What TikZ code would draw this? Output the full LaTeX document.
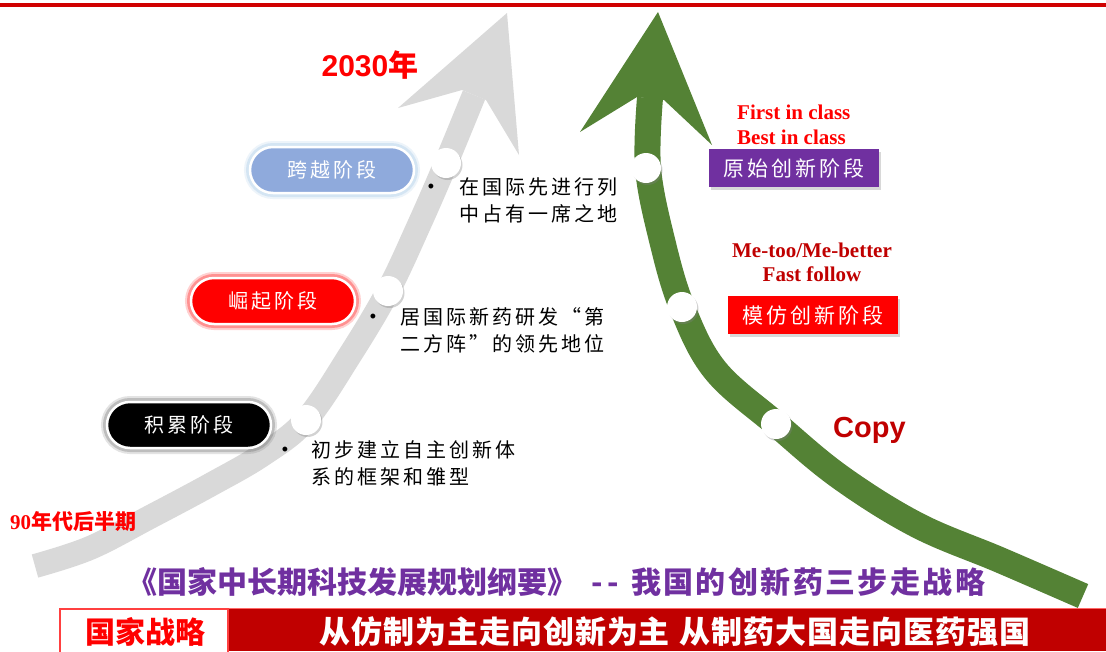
\documentclass[tikz,border=0pt]{standalone}
\usepackage{fontspec}
\usetikzlibrary{shadows}
\newfontfamily\cjk{Noto Sans CJK SC}
\newfontfamily\cjksp[LetterSpace=15]{Noto Sans CJK SC}
\newfontfamily\cjkwide[LetterSpace=8]{Noto Sans CJK SC}
\newfontfamily\cjkslight[LetterSpace=3]{Noto Sans CJK SC}
\newfontfamily\arialf{Liberation Sans}
\newfontfamily\timesf{Liberation Serif}
\definecolor{grayarrow}{HTML}{D9D9D9}
\definecolor{greenarrow}{HTML}{548235}
\definecolor{darkred}{HTML}{C00000}
\definecolor{purp}{HTML}{7030A0}
\definecolor{bluepill}{HTML}{8FAADC}
\definecolor{blueglow}{HTML}{9DC3E6}
\definecolor{topred}{HTML}{D00000}
\begin{document}
\begin{tikzpicture}[x=1pt,y=-1pt,
  pill/.style={rounded corners=23pt, minimum width=164pt, minimum height=46pt,
    draw=white, line width=2.5pt, text=white, inner sep=0pt,
    font=\cjksp\fontsize{20}{24}\selectfont},
  glow/.style={preaction={draw=#1, line width=12pt, opacity=0.18},
    preaction={draw=#1, line width=8pt, opacity=0.3}},
  dot/.style={circle, fill=white, minimum size=30pt, inner sep=0pt,
    drop shadow={shadow xshift=1.5pt, shadow yshift=-2pt, opacity=0.35}},
  sqbox/.style={minimum width=170pt, minimum height=38pt, inner sep=0pt, text=white,
    font=\cjksp\fontsize{21}{25}\selectfont,
    drop shadow={shadow xshift=2pt, shadow yshift=-3pt, opacity=0.3}},
  desc/.style={anchor=north west, align=left, inner sep=0pt,
    font=\cjksp\fontsize{20}{27}\selectfont},
  bul/.style={inner sep=0pt, font=\arialf\fontsize{18}{18}\selectfont},
  entxt/.style={inner sep=0pt, font=\timesf\bfseries\fontsize{21}{25}\selectfont},
]
\useasboundingbox (0,0) rectangle (1106,651);
\fill[white] (0,0) rectangle (1106,651);
\fill[topred] (0,3) rectangle (1106,7);

% gray arrow
\draw[grayarrow, line width=24pt] plot[smooth, tension=0.6] coordinates
  {(35,566) (90,548) (150,517) (210,485) (262,455) (306,420) (350,355) (388,291) (419,225) (446,163) (474,95)};
\fill[grayarrow] (462,90) -- (398,108) -- (507,13) -- (519,155) -- (486,100) -- cycle;

% green arrow
\draw[greenarrow, line width=26pt] plot[smooth, tension=0.6] coordinates
  {(1083,596) (1000,560) (917,525) (840,477) (776,424) (715,370) (682,307) (662,240) (648,168) (650,98)};
\fill[greenarrow] (637,97) -- (580,132) -- (658,12) -- (712,145) -- (664,100) -- cycle;

% circles
\node[dot] (g1) at (306,420) {};
\node[dot] (g2) at (388,291) {};
\node[dot] (g3) at (446,163) {};
\node[dot] (r1) at (776,424) {};
\node[dot] (r2) at (682,307) {};
\node[dot] (r3) at (646,168) {};

% pills
\node[pill, fill=bluepill, glow=blueglow] (kuayue) at (332,170) {跨越阶段};
\node[pill, fill=red, glow=red] (jueqi) at (273,301) {崛起阶段};
\node[pill, fill=black, glow=black!60] (jilei) at (189,425) {积累阶段};

% descriptions
\node[bul] (b3) at (431,188) {•};
\node[desc] (d3) at (459,177) {在国际先进行列\\中占有一席之地};
\node[bul] (b2) at (373,318) {•};
\node[desc] (d2) at (400,307) {居国际新药研发“第\\二方阵”的领先地位};
\node[bul] (b1) at (285,451) {•};
\node[desc] (d1) at (311,440) {初步建立自主创新体\\系的框架和雏型};

% year labels
\node[inner sep=0pt, text=red] (y2030) at (370,65)
  {\arialf\bfseries\fontsize{30}{32}\selectfont 2030\cjk\bfseries 年};
\node[inner sep=0pt, anchor=west, text=red] (y90) at (10,522)
  {\timesf\bfseries\fontsize{21}{24}\selectfont 90\cjk\bfseries 年代后半期};

% right side boxes
\node[sqbox, fill=purp] (yuanshi) at (794,168) {原始创新阶段};
\node[sqbox, fill=red] (mofang) at (813,315) {模仿创新阶段};
\node[entxt, text=red, anchor=west] (first) at (737,112) {First in class};
\node[entxt, text=red, anchor=west] (best) at (737,137) {Best in class};
\node[entxt, text=darkred] (metoo) at (812,250) {Me-too/Me-better};
\node[entxt, text=darkred] (fast) at (812,274) {Fast follow};
\node[inner sep=0pt, text=darkred, anchor=west] (copy) at (833,430)
  {\arialf\bfseries\fontsize{29}{32}\selectfont Copy};

% title
\node[inner sep=0pt, anchor=west, text=purp] (title) at (127,582)
  {\cjk\bfseries\fontsize{30}{32}\selectfont 《国家中长期科技发展规划纲要》\hspace{14pt}-\hspace{5pt}-\hspace{12pt}\cjkwide\bfseries 我国的创新药三步走战略};

% bottom bar
\fill[darkred] (227,608) rectangle (1106,651);
\draw[red!60, line width=1pt] (227,608.5) -- (1106,608.5);
\node[draw=red!75, line width=1.5pt, fill=white, minimum width=168pt, minimum height=50pt,
  inner sep=0pt, anchor=north west] (gjbox) at (59,608) {};
\node[inner sep=0pt, text=red] (gjzl) at (145,632)
  {\cjk\bfseries\fontsize{30}{32}\selectfont 国家战略};
\node[inner sep=0pt, text=white] (slogan) at (675,632)
  {\cjkslight\bfseries\fontsize{31}{33}\selectfont 从仿制为主走向创新为主\hspace{10pt}从制药大国走向医药强国};
\end{tikzpicture}
\end{document}
